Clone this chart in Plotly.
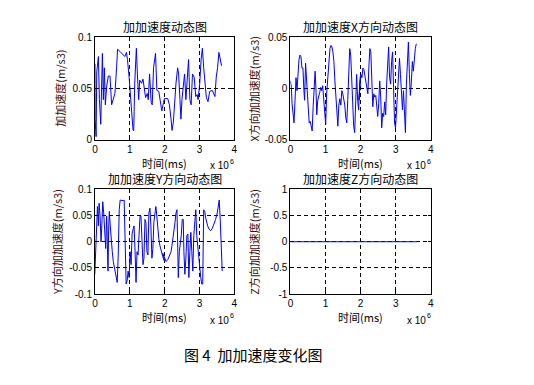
import plotly.graph_objects as go

# ---- data (time in units of 1e6 ms) ----
t_total = [0.0, 0.005, 0.033, 0.052, 0.099, 0.128, 0.166, 0.213, 0.241, 0.270, 0.298, 0.336, 0.384, 0.431,
           0.478, 0.526, 0.573, 0.620, 0.649, 0.715, 0.810, 0.857, 0.904, 0.933, 0.980, 1.018, 1.056, 1.094,
           1.113, 1.141, 1.188, 1.217, 1.255, 1.283, 1.340, 1.378, 1.425, 1.453, 1.501, 1.529, 1.567, 1.614,
           1.643, 1.681, 1.738, 1.776, 1.832, 1.870, 1.918, 1.965, 1.993, 2.088, 2.136, 2.183, 2.212, 2.249,
           2.287, 2.325, 2.372, 2.401, 2.439, 2.467, 2.496, 2.534, 2.571, 2.609, 2.647, 2.685, 2.723, 2.760,
           2.798, 2.846, 2.893, 2.931, 2.959, 3.007, 3.045, 3.082, 3.120, 3.158, 3.196, 3.243, 3.291, 3.366,
           3.442, 3.480, 3.518, 3.556, 3.594, 3.632]
v_total = [0.074, 0.020, 0.003, 0.066, 0.081, 0.039, 0.015, 0.084, 0.039, 0.070, 0.034, 0.052, 0.062, 0.062,
           0.034, 0.039, 0.045, 0.070, 0.088, 0.086, 0.082, 0.081, 0.085, 0.078, 0.061, 0.039, 0.026, 0.009,
           0.009, 0.055, 0.089, 0.064, 0.039, 0.058, 0.055, 0.059, 0.050, 0.041, 0.045, 0.039, 0.064, 0.036,
           0.034, 0.070, 0.084, 0.048, 0.047, 0.036, 0.028, 0.036, 0.040, 0.040, 0.034, 0.020, 0.009, 0.017,
           0.042, 0.055, 0.070, 0.064, 0.039, 0.020, 0.039, 0.052, 0.064, 0.039, 0.055, 0.078, 0.039, 0.034,
           0.064, 0.061, 0.042, 0.044, 0.039, 0.055, 0.078, 0.089, 0.070, 0.053, 0.041, 0.037, 0.047, 0.048,
           0.042, 0.061, 0.070, 0.085, 0.078, 0.072]

zx_x_a = [5, 8, 10, 13, 16, 19, 22, 25, 28, 31, 34, 37, 40, 43, 46, 48, 51, 54, 56, 59, 62, 65, 68, 71, 74, 77,
          80, 83, 85, 88, 91, 94, 97, 100, 103, 106, 109, 112, 115, 118, 121, 125, 128, 131, 134, 137, 140, 143,
          146, 149, 152, 155, 158, 161, 164, 167, 170, 173, 176, 179, 182, 185, 188, 191, 194, 197, 200, 203,
          206, 209, 212, 215, 218]
zy_x_a = [140, 160, 210, 245, 270, 200, 130, 170, 110, 75, 60, 65, 100, 100, 170, 200, 85, 140, 200, 220, 270,
          265, 280, 295, 220, 170, 110, 175, 245, 200, 180, 175, 160, 170, 155, 200, 240, 275, 180, 140, 75, 40,
          30, 35, 50, 80, 140, 200, 250, 280, 215, 195, 215, 170, 180, 195, 215, 255, 270, 200, 110, 40, 60,
          150, 240, 280, 300, 190, 120, 200, 230, 150, 120]
zx_x_b = [3, 6, 9, 12, 15, 18, 21, 24, 27, 30, 33, 36, 39, 42, 45, 48, 51, 54, 57, 60, 63, 66, 69, 72, 75, 78,
          81, 84, 87, 90, 93, 96, 99, 102, 105, 108, 111, 114, 117, 120, 123, 126, 129, 132, 135, 138, 141, 144,
          147, 150, 153, 156, 159, 162, 165, 168, 171, 174, 177]
zy_x_b = [200, 140, 120, 130, 100, 105, 125, 140, 170, 180, 100, 40, 50, 160, 220, 180, 190, 185, 230, 250, 210,
          140, 190, 285, 240, 250, 205, 245, 150, 70, 35, 130, 150, 80, 50, 160, 270, 285, 230, 170, 100, 70, 120,
          200, 230, 170, 250, 300, 150, 50, 20, 120, 185, 145, 80, 110, 55, 40, 25]
t_x = [round((z / 3 - 1.7) / 35.5, 3) for z in zx_x_a] + [round((z / 3 + 68.3) / 35.5, 3) for z in zx_x_b]
v_x = [round((163 - z) / 159 * 0.05, 4) for z in zy_x_a + zy_x_b]

zx_y_a = [4, 6, 9, 12, 15, 17, 20, 23, 26, 28, 31, 34, 37, 40, 42, 44, 46, 48, 51, 54, 57, 60, 63, 66, 69, 72,
          75, 78, 81, 85, 90, 93, 96, 99, 102, 105, 108, 111, 114, 117, 120, 123, 126, 129, 132, 135, 138, 141,
          144, 147, 150, 153, 156, 159, 162, 165, 168, 171, 174, 177, 180, 183, 186, 189, 192, 195, 198, 201,
          204, 207, 210, 213, 216]
zy_y_a = [270, 200, 130, 60, 120, 50, 90, 170, 100, 45, 80, 160, 190, 90, 210, 260, 130, 75, 120, 170, 200, 230,
          245, 270, 280, 295, 210, 70, 40, 42, 42, 40, 180, 300, 290, 260, 280, 200, 240, 145, 130, 120, 200, 295,
          200, 210, 150, 90, 90, 150, 240, 220, 100, 110, 200, 210, 80, 65, 120, 220, 190, 110, 80, 60, 90, 130,
          160, 180, 195, 205, 215, 225, 230]
zx_y_b = [0, 5, 10, 15, 20, 25, 28, 31, 34, 37, 40, 43, 45, 47, 50, 53, 56, 59, 62, 64, 67, 70, 73, 76, 79, 82,
          85, 88, 91, 94, 97, 100, 103, 106, 109, 112, 115, 118, 121, 124, 127, 130, 133, 136, 140, 145, 150, 155,
          160, 165, 168, 171, 174, 176, 178, 180]
zy_y_b = [205, 220, 230, 225, 215, 200, 180, 160, 140, 110, 80, 70, 170, 280, 200, 180, 150, 100, 100, 200, 270,
          220, 150, 145, 280, 200, 140, 200, 260, 150, 110, 70, 150, 185, 230, 270, 280, 300, 300, 70, 75, 95,
          110, 120, 130, 135, 128, 115, 100, 80, 55, 40, 100, 160, 245, 260]
t_y = [round((z / 3 - 1.5) / 35.2, 3) for z in zx_y_a] + [round((z / 3 + 68.5) / 35.2, 3) for z in zx_y_b]
v_y = [round((169 - z) / 162 * 0.1, 4) for z in zy_y_a + zy_y_b]

t_z = [0.0, 3.6]
v_z = [0.0, 0.0]

x_ticks = [0, 1, 2, 3, 4]
titles = ["加加速度动态图", "加加速度X方向动态图", "加加速度Y方向动态图", "加加速度Z方向动态图"]
ylabels = ["加加速度(m/s3)", "X方向加加速度(m/s3)", "Y方向加加速度(m/s3)", "Z方向加加速度(m/s3)"]
xlabel = "时间(ms)"
caption = "图 4  加加速度变化图"

W, H = 534, 385
def fx(px): return px / W
def fy(py): return 1 - py / H

boxes = [(93, 234, 32, 138), (290.7, 432.7, 32, 138), (93, 234, 189.3, 297.3), (290.7, 432.7, 189.3, 297.3)]
yranges = [[0, 0.1], [-0.05, 0.05], [-0.1, 0.1], [-1, 1]]
yticks = [[0, 0.05, 0.1], [-0.05, 0, 0.05], [-0.1, -0.05, 0, 0.05, 0.1], [-1, -0.5, 0, 0.5, 1]]
ytext = [["0", "0.05", "0.1"], ["-0.05", "0", "0.05"], ["-0.1", "-0.05", "0", "0.05", "0.1"],
         ["-1", "-0.5", "0", "0.5", "1"]]
series = [(t_total, v_total), (t_x, v_x), (t_y, v_y), (t_z, v_z)]
ylab_x = [58, 254, 54, 254]

fig = go.Figure()
tickfont = dict(family="Liberation Sans, Arial", size=10, color="black")
cjk = "Noto Sans CJK SC"
ann = []
def A(**kw):
    d = dict(xref="paper", yref="paper", showarrow=False, xanchor="center", yanchor="middle")
    d.update(kw)
    ann.append(d)

for i in range(4):
    xs = "x" if i == 0 else f"x{i+1}"
    ys = "y" if i == 0 else f"y{i+1}"
    t, v = series[i]
    fig.add_trace(go.Scatter(x=t, y=v, mode="lines", line=dict(color="#0000ff", width=1),
                             xaxis=xs, yaxis=ys, showlegend=False, hoverinfo="skip"))
    l, r, tp, bt = boxes[i]
    axcommon = dict(showline=True, linecolor="black", linewidth=1, mirror="ticks", ticks="inside",
                    ticklen=3, tickcolor="black", showgrid=True, gridcolor="black", griddash="4px,3px",
                    gridwidth=1, zeroline=False, tickfont=tickfont, fixedrange=True)
    xk = "xaxis" if i == 0 else f"xaxis{i+1}"
    yk = "yaxis" if i == 0 else f"yaxis{i+1}"
    fig.update_layout({
        xk: dict(domain=[fx(l), fx(r)], range=[0, 4], tickvals=x_ticks, anchor=ys, **axcommon),
        yk: dict(domain=[fy(bt), fy(tp)], range=yranges[i], tickvals=yticks[i], ticktext=ytext[i],
                 anchor=xs, **axcommon),
    })
    cx = (l + r) / 2
    A(text=titles[i], x=fx(cx), y=fy(tp - 11), font=dict(family=cjk, size=12, color="black"))
    A(text=xlabel, x=fx(cx), y=fy(bt + 24), font=dict(family=cjk, size=11, color="black"))
    A(text="x 10", x=fx(r - 4), y=fy(bt + 27), xanchor="right", borderpad=0,
      font=dict(family="Liberation Sans, Arial", size=10, color="black"))
    A(text="6", x=fx(r - 5), y=fy(bt + 22), xanchor="left", borderpad=0,
      font=dict(family="Liberation Sans, Arial", size=7, color="black"))
    A(text=ylabels[i], x=fx(ylab_x[i]), y=fy((tp + bt) / 2), textangle=-90,
      font=dict(family=cjk, size=11, color="#3a1010"))

A(text=caption, x=fx(253), y=fy(360), font=dict(family=cjk, size=15, color="black"))

fig.update_layout(width=W, height=H, margin=dict(l=0, r=0, t=0, b=0), paper_bgcolor="white",
                  plot_bgcolor="white", annotations=ann)
fig.write_html("out.html", config={"displayModeBar": False, "staticPlot": True},
               post_script="document.body.style.margin='0';document.body.style.overflow='hidden';")
